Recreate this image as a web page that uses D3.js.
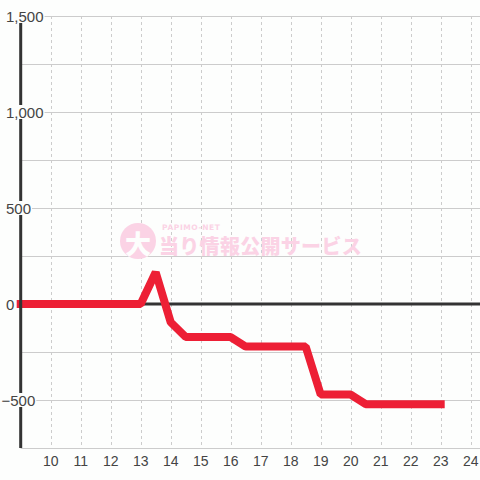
<!DOCTYPE html>
<html><head><meta charset="utf-8">
<script src="https://cdn.jsdelivr.net/npm/d3@7"></script>
<style>html,body{margin:0;padding:0;background:#fdfefd;}svg{display:block;}</style>
</head><body>
<script>
const hours = [9,9.5,10,10.5,11,11.5,12,12.5,13,13.5,14,14.5,15,15.5,16,16.5,17,17.5,18,18.5,19,19.5,20,20.5,21,21.5,22,22.5,23];
const values = [0,0,0,0,0,0,0,0,0,165,-95,-172,-172,-172,-172,-222,-222,-222,-222,-222,-472,-472,-472,-522,-522,-522,-522,-522,-522];
const xTicks = [10,11,12,13,14,15,16,17,18,19,20,21,22,23,24];
const yGrid = [1500,1250,1000,750,500,250,-250,-500,-750];
const yLabels = [1500,1000,500,0,-500];

const W = 480, H = 480;
const svg = d3.select("body").append("svg").attr("width", W).attr("height", H);
svg.append("rect").attr("width", W).attr("height", H).attr("fill", "#fdfefd");

const x = d3.scaleLinear().domain([9, 24.31]).range([20.7, 480]);
const y = d3.scaleLinear().domain([1500, -750]).range([16, 448]);

// horizontal grid
svg.append("g").selectAll("line").data(yGrid).join("line")
  .attr("x1", x(9)).attr("x2", W)
  .attr("y1", d => Math.round(y(d)) + 0.5).attr("y2", d => Math.round(y(d)) + 0.5)
  .attr("stroke", "#cccccc").attr("stroke-width", 1);

// vertical dashed grid
svg.append("g").selectAll("line").data(xTicks).join("line")
  .attr("x1", d => Math.round(x(d)) + 0.5).attr("x2", d => Math.round(x(d)) + 0.5)
  .attr("y1", y(1500)).attr("y2", y(-750))
  .attr("stroke", "#cccccc").attr("stroke-width", 1).attr("stroke-dasharray", "3,3");

// watermark
const wm = svg.append("g");
wm.append("circle").attr("cx", 138).attr("cy", 241).attr("r", 18).attr("fill", "#fbd3e5");
wm.append("text").attr("x", 138).attr("y", 242).attr("text-anchor", "middle").attr("dominant-baseline", "central")
  .attr("font-family", "Noto Sans CJK JP").attr("font-weight", 900).attr("font-size", 26).attr("fill", "#fdfefd").text("大");
wm.append("text").attr("x", 162).attr("y", 230).attr("font-family", "DejaVu Sans").attr("font-weight", "bold")
  .attr("font-size", 7.5).attr("letter-spacing", 0.6).attr("fill", "#fbd3e5").text("PAPIMO-NET");
wm.append("text").attr("x", 159).attr("y", 254).attr("font-family", "Noto Sans CJK JP").attr("font-weight", 900)
  .attr("font-size", 20).attr("letter-spacing", 0.3).attr("fill", "#fbd3e5").text("当り情報公開サービス");

// zero line
svg.append("line").attr("x1", x(9)).attr("x2", W).attr("y1", y(0)).attr("y2", y(0))
  .attr("stroke", "#333333").attr("stroke-width", 3);

// data line
const line = d3.line().x((d, i) => x(hours[i])).y(d => y(d));
svg.append("path").datum(values).attr("d", line).attr("fill", "none")
  .attr("stroke", "#ed1f35").attr("stroke-width", 8)
  .attr("stroke-linejoin", "bevel").attr("stroke-linecap", "square");

// y axis line
svg.append("line").attr("x1", x(9)).attr("x2", x(9)).attr("y1", y(1500)).attr("y2", y(-750))
  .attr("stroke", "#333333").attr("stroke-width", 3);

// y labels with background
const fmt = d3.format(",");
const yl = svg.append("g").selectAll("g").data(yLabels).join("g");
yl.each(function(d) {
  const g = d3.select(this);
  const t = g.append("text")
    .attr("x", d < 0 ? 1.5 : 6).attr("y", y(d))
    .attr("dominant-baseline", "central")
    .attr("font-family", "Liberation Sans, Arial, sans-serif").attr("font-size", 15)
    .attr("fill", "#444").text(fmt(d));
  const bb = t.node().getBBox();
  g.insert("rect", "text").attr("x", bb.x - 1).attr("y", y(d) - 7).attr("width", bb.width + 2).attr("height", 14)
    .attr("fill", "#fdfefd");
});

// x labels
svg.append("g").selectAll("text").data(xTicks).join("text")
  .attr("x", d => x(d)).attr("y", 466).attr("text-anchor", "middle")
  .attr("font-family", "Liberation Sans, Arial, sans-serif").attr("font-size", 14)
  .attr("fill", "#444").text(d => d);
</script>
</body></html>
